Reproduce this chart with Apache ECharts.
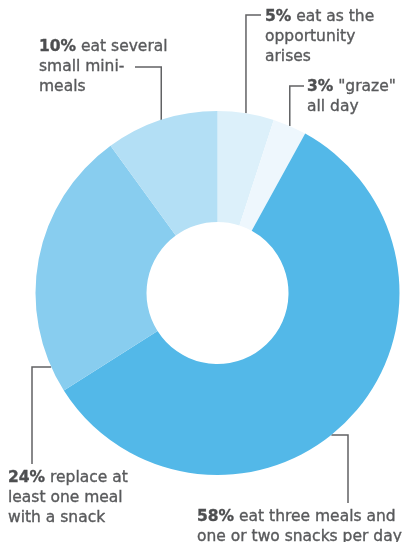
<!DOCTYPE html>
<html>
<head>
<meta charset="utf-8">
<script src="https://cdn.jsdelivr.net/npm/echarts@6/dist/echarts.min.js"></script>
<style>
  html, body { margin: 0; padding: 0; background: #ffffff; }
  #chart { width: 415px; height: 542px; }
</style>
</head>
<body>
<div id="chart"></div>
<script>
// Eating habits: share of respondents by pattern (clockwise from 12 o'clock)
const categories = [
  'eat as the\nopportunity\narises',
  '"graze"\nall day',
  'eat three meals and\none or two snacks per day',
  'replace at\nleast one meal\nwith a snack',
  'eat several\nsmall mini-\nmeals'
];
const shares = [5, 3, 58, 24, 10];
const sliceColors = ['#dcf0fa', '#eef7fd', '#53b8e8', '#88cdef', '#b3dff5'];

// Donut geometry (pixels)
const CX = 217.5, CY = 293, R_IN = 71, R_OUT = 182;

// Callout placement: label box top-left, and leader routing.
// 'mid'  : leader leaves the slice at its mid-angle, goes up to lineY, then across to endX
// 'edge' : leader leaves the rim at lineY, goes across to lineX, then down to endY
const callouts = [
  { x: 265, y: 7,   route: 'mid',  lineY: 15,  endX: 261 },
  { x: 307, y: 77,  route: 'mid',  lineY: 86,  endX: 304 },
  { x: 197, y: 507, route: 'edge', lineY: 435, lineX: 348, endY: 503, side: 1 },
  { x: 8,   y: 468, route: 'edge', lineY: 367, lineX: 32,  endY: 464, side: -1 },
  { x: 39,  y: 37,  route: 'mid',  lineY: 67,  endX: 135 }
];

const total = shares.reduce((a, b) => a + b, 0);
function midAngle(i) {
  let before = 0;
  for (let k = 0; k < i; k++) before += shares[k];
  return ((before + shares[i] / 2) / total) * 2 * Math.PI; // clockwise from top
}

const chart = echarts.init(document.getElementById('chart'), null, { renderer: 'canvas' });

const FONT = '"DejaVu Sans", sans-serif';
const TEXT = '#58595b';
const TEXT_BOLD = '#4d4e50';

chart.setOption({
  animation: false,
  backgroundColor: '#ffffff',
  series: [{
    type: 'pie',
    center: [CX, CY],
    radius: [R_IN, R_OUT],
    startAngle: 90,
    clockwise: true,
    avoidLabelOverlap: false,
    silent: true,
    data: shares.map((v, i) => ({
      value: v,
      name: categories[i],
      itemStyle: { color: sliceColors[i] }
    })),
    label: {
      show: true,
      position: 'outside',
      width: 260,
      overflow: 'none',
      formatter: p => '{b|' + p.value + '%} ' + p.name,
      color: TEXT,
      textBorderColor: TEXT,
      textBorderWidth: 0.35,
      fontFamily: FONT,
      fontSize: 15.5,
      lineHeight: 20,
      align: 'left',
      rich: {
        b: {
          fontFamily: FONT,
          fontWeight: 'bold',
          fontSize: 15.5,
          lineHeight: 20,
          color: TEXT_BOLD,
          textBorderColor: TEXT_BOLD,
          textBorderWidth: 0.35
        }
      }
    },
    labelLine: {
      show: true,
      smooth: false,
      lineStyle: { color: '#616264', width: 1.5 }
    },
    labelLayout: function (params) {
      const i = params.dataIndex;
      const c = callouts[i];
      let pts;
      if (c.route === 'mid') {
        const a = midAngle(i);
        const sx = CX + R_OUT * Math.sin(a);
        const sy = CY - R_OUT * Math.cos(a);
        pts = [[sx, sy], [sx, c.lineY], [c.endX, c.lineY]];
      } else {
        const dy = c.lineY - CY;
        const sx = CX + c.side * Math.sqrt(R_OUT * R_OUT - dy * dy);
        pts = [[sx, c.lineY], [c.lineX, c.lineY], [c.lineX, c.endY]];
      }
      return {
        x: c.x,
        y: c.y,
        align: 'left',
        verticalAlign: 'top',
        labelLinePoints: pts
      };
    }
  }]
});
</script>
</body>
</html>
